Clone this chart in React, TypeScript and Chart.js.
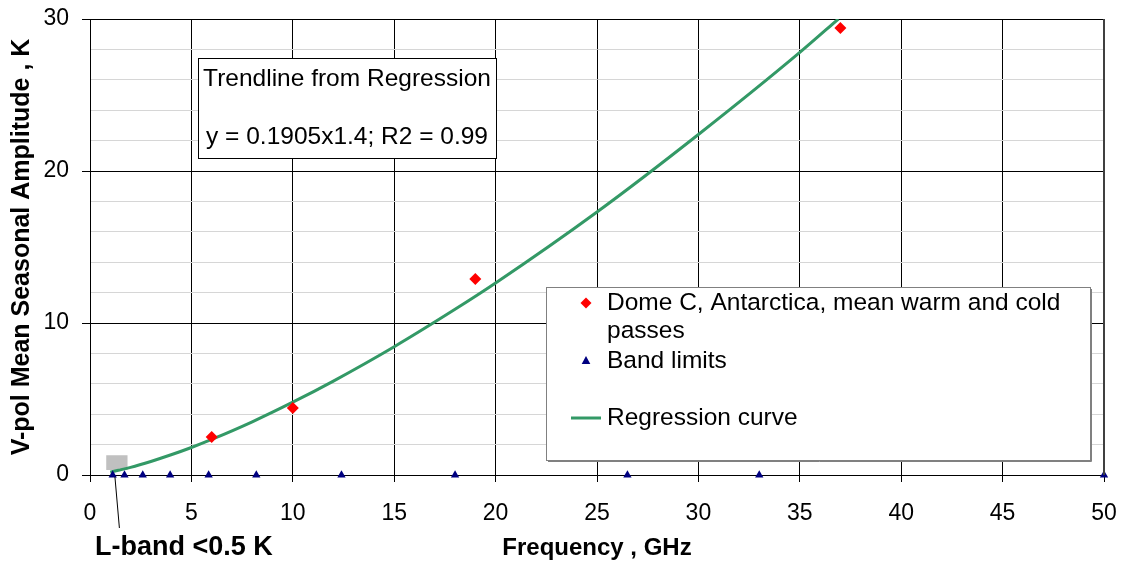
import React, { useEffect, useRef } from "react";
import { Chart, registerables } from "chart.js";

Chart.register(...registerables);

// ---- data ----
const domeFreq = [6, 10, 19, 37];
const domeAmp = [2.5, 4.4, 12.9, 29.4];

const bandFreq = [1.12, 1.7, 2.6, 3.95, 5.85, 8.2, 12.4, 18, 26.5, 33, 50];
const bandAmp = [0, 0, 0, 0, 0, 0, 0, 0, 0, 0, 0];

const curveFreq = [1.0, 1.4, 2, 3, 4, 5, 6, 8, 10, 12, 15, 18, 20, 25, 30, 35, 36.9];
const curveAmp = [0.19, 0.31, 0.5, 0.89, 1.33, 1.81, 2.34, 3.5, 4.79, 6.18, 8.44, 10.9, 12.63, 17.3, 22.4, 27.8, 30.0];

const lbandBoxFreq = [0.8, 1.85];
const lbandBoxAmp = [0.33, 1.3];

const xTickStep = 5;
const yTickStep = 2;
const yMajorStep = 10;

const xTitle = "Frequency , GHz";
const yTitle = "V-pol Mean Seasonal Amplitude , K";
const lbandLabel = "L-band <0.5 K";
const trendLines = ["Trendline from Regression", "y = 0.1905x1.4; R2 = 0.99"];
const legendDome = ["Dome C, Antarctica, mean warm and cold", "passes"];
const legendBand = "Band limits";
const legendCurve = "Regression curve";

const FONT = "'Liberation Sans', Arial, sans-serif";
const RED = "#ff0000";
const NAVY = "#000080";
const GREEN = "#339966";

const overlayPlugin = {
  id: "overlay",
  beforeDatasetsDraw(chart: any) {
    const { ctx, scales } = chart;
    const x = scales.x;
    const y = scales.y;
    ctx.save();
    const bx0 = x.getPixelForValue(lbandBoxFreq[0]);
    const bx1 = x.getPixelForValue(lbandBoxFreq[1]);
    const by0 = y.getPixelForValue(lbandBoxAmp[0]);
    const by1 = y.getPixelForValue(lbandBoxAmp[1]);
    ctx.fillStyle = "#c0c0c0";
    ctx.fillRect(bx0, by1, bx1 - bx0, by0 - by1);
    ctx.restore();
  },
  afterDatasetsDraw(chart: any) {
    const { ctx, scales } = chart;
    const x = scales.x;
    const y = scales.y;
    ctx.save();

    // darker right frame edge
    ctx.strokeStyle = "#404040";
    ctx.lineWidth = 2;
    ctx.beginPath();
    ctx.moveTo(x.getPixelForValue(50), y.getPixelForValue(30));
    ctx.lineTo(x.getPixelForValue(50), y.getPixelForValue(0));
    ctx.stroke();

    // L-band pointer line & label
    ctx.strokeStyle = "#000";
    ctx.lineWidth = 1;
    ctx.beginPath();
    ctx.moveTo(x.getPixelForValue(1.23), y.getPixelForValue(0) + 2);
    ctx.lineTo(x.getPixelForValue(1.45), chart.height - 36);
    ctx.stroke();
    ctx.fillStyle = "#000";
    ctx.font = `bold 27px ${FONT}`;
    ctx.textAlign = "left";
    ctx.textBaseline = "middle";
    ctx.fillText(lbandLabel, x.getPixelForValue(0.25), chart.height - 16);

    // Trendline text box
    const tbL = 198, tbT = 58, tbW = 298, tbH = 100;
    ctx.fillStyle = "#fff";
    ctx.fillRect(tbL, tbT, tbW, tbH);
    ctx.strokeStyle = "#000";
    ctx.lineWidth = 1;
    ctx.strokeRect(tbL + 0.5, tbT + 0.5, tbW, tbH);
    ctx.fillStyle = "#000";
    ctx.font = `24.5px ${FONT}`;
    ctx.textAlign = "center";
    ctx.fillText(trendLines[0], tbL + tbW / 2, tbT + 21);
    ctx.fillText(trendLines[1], tbL + tbW / 2, tbT + 79);

    // Legend box
    const lgL = 546, lgT = 287, lgW = 544, lgH = 173;
    ctx.fillStyle = "#fff";
    ctx.fillRect(lgL, lgT, lgW, lgH);
    ctx.strokeStyle = "#808080";
    ctx.lineWidth = 1;
    ctx.strokeRect(lgL + 0.5, lgT + 0.5, lgW, lgH);
    ctx.beginPath();
    ctx.moveTo(lgL + lgW + 1.5, lgT + 2);
    ctx.lineTo(lgL + lgW + 1.5, lgT + lgH + 1.5);
    ctx.lineTo(lgL + 2, lgT + lgH + 1.5);
    ctx.stroke();

    const mx = 586, tx = 607;
    // diamond
    ctx.fillStyle = RED;
    ctx.beginPath();
    ctx.moveTo(mx, 303 - 5.5);
    ctx.lineTo(mx + 5.5, 303);
    ctx.lineTo(mx, 303 + 5.5);
    ctx.lineTo(mx - 5.5, 303);
    ctx.closePath();
    ctx.fill();
    // triangle
    ctx.fillStyle = NAVY;
    ctx.beginPath();
    ctx.moveTo(mx, 361 - 5);
    ctx.lineTo(mx + 4.3, 361 + 3);
    ctx.lineTo(mx - 4.3, 361 + 3);
    ctx.closePath();
    ctx.fill();
    // line
    ctx.strokeStyle = GREEN;
    ctx.lineWidth = 3;
    ctx.beginPath();
    ctx.moveTo(571, 418);
    ctx.lineTo(601, 418);
    ctx.stroke();

    ctx.fillStyle = "#000";
    ctx.font = `24.5px ${FONT}`;
    ctx.textAlign = "left";
    ctx.textBaseline = "middle";
    ctx.fillText(legendDome[0], tx, 303);
    ctx.fillText(legendDome[1], tx, 331);
    ctx.fillText(legendBand, tx, 361);
    ctx.fillText(legendCurve, tx, 418);

    ctx.restore();
  },
};

export default function App() {
  const canvasRef = useRef<HTMLCanvasElement | null>(null);

  useEffect(() => {
    if (!canvasRef.current) return;
    const chart = new Chart(canvasRef.current, {
      type: "scatter",
      data: {
        datasets: [
          {
            label: "Dome C",
            data: domeFreq.map((f, i) => ({ x: f, y: domeAmp[i] })),
            pointStyle: "rectRot",
            pointRadius: 6,
            backgroundColor: RED,
            borderColor: RED,
            borderWidth: 0,
          },
          {
            label: "Band limits",
            data: bandFreq.map((f, i) => ({ x: f, y: bandAmp[i] })),
            pointStyle: "triangle",
            pointRadius: 4.8,
            backgroundColor: NAVY,
            borderColor: NAVY,
            borderWidth: 0,
            clip: 10,
          },
          {
            label: "Regression curve",
            data: curveFreq.map((f, i) => ({ x: f, y: curveAmp[i] })),
            showLine: true,
            pointRadius: 0,
            borderColor: GREEN,
            borderWidth: 3,
            cubicInterpolationMode: "monotone",
            fill: false,
          },
        ],
      },
      options: {
        responsive: false,
        animation: false,
        events: [],
        layout: { padding: { top: 19, right: 18, left: 0, bottom: 0 } },
        plugins: {
          legend: { display: false },
          tooltip: { enabled: false },
          title: { display: false },
        },
        scales: {
          x: {
            type: "linear",
            min: 0,
            max: 50,
            ticks: {
              stepSize: xTickStep,
              autoSkip: false,
              maxRotation: 0,
              color: "#000",
              padding: 18,
              font: { family: FONT, size: 23 },
            },
            grid: {
              color: "#000",
              lineWidth: 1,
              tickLength: 7,
              tickColor: "#000",
            },
            border: { display: true, color: "#000", width: 1 },
            title: {
              display: true,
              text: xTitle,
              color: "#000",
              font: { family: FONT, size: 24, weight: "bold" },
              padding: { top: 0, bottom: 1 },
            },
            afterFit: (s: any) => {
              s.height = 89;
              s.paddingLeft = 0;
              s.paddingRight = 0;
            },
          },
          y: {
            type: "linear",
            min: 0,
            max: 30,
            ticks: {
              stepSize: yTickStep,
              autoSkip: false,
              color: "#000",
              padding: 13,
              font: { family: FONT, size: 23 },
              callback: (v: any) => (Number(v) % yMajorStep === 0 ? String(v) : ""),
            },
            grid: {
              color: (c: any) =>
                c.tick && c.tick.value % yMajorStep === 0 ? "#000" : "#d6d6d6",
              tickColor: (c: any) =>
                c.tick && c.tick.value % yMajorStep === 0 ? "#000" : "rgba(0,0,0,0)",
              lineWidth: 1,
              tickLength: 8,
            },
            border: { display: true, color: "#000", width: 1 },
            title: {
              display: true,
              text: yTitle,
              color: "#000",
              font: { family: FONT, size: 25, weight: "bold" },
              padding: { top: 7, bottom: 0 },
            },
            afterFit: (s: any) => {
              s.width = 90;
              s.paddingTop = 0;
              s.paddingBottom = 0;
            },
          },
        },
      },
      plugins: [overlayPlugin],
    });
    return () => chart.destroy();
  }, []);

  return (
    <div style={{ position: "absolute", left: 0, top: 0, width: 1122, height: 564, background: "#fff" }}>
      <canvas ref={canvasRef} width={1122} height={564} />
    </div>
  );
}
